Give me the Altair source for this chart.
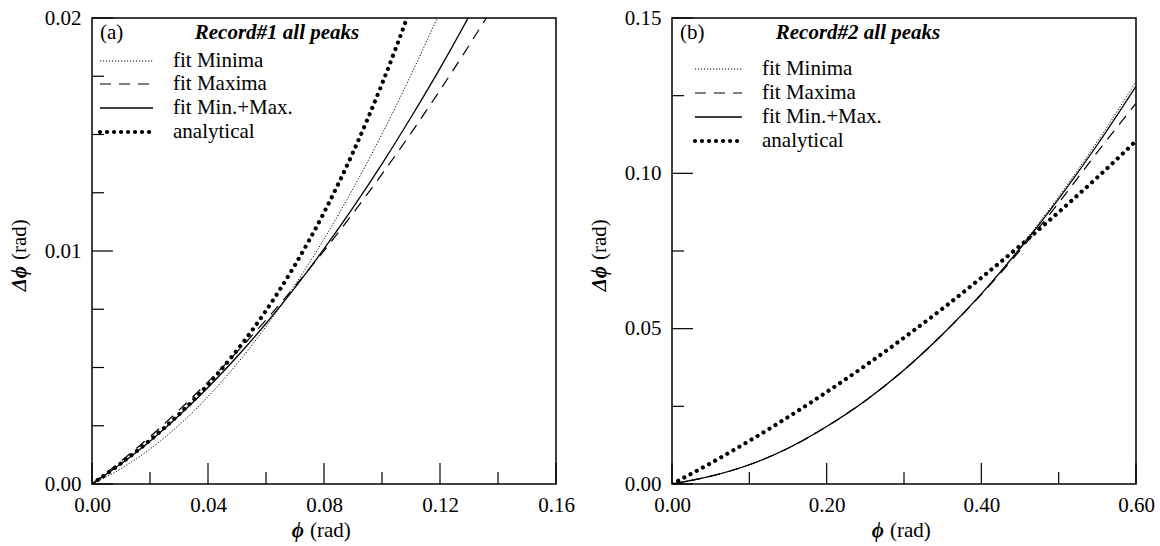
import altair as alt
import pandas as pd

FONT = "Liberation Serif"
FS = 21

# ---------------- panel (a): Record#1 ----------------
a_x = [0.00, 0.01, 0.02, 0.03, 0.04, 0.05, 0.06, 0.07, 0.08, 0.09, 0.10, 0.11, 0.12, 0.13, 0.14]
a_fit_min = [0.0, 0.00066, 0.00150, 0.00253, 0.00375, 0.00516, 0.00676, 0.00854, 0.01051, 0.01267, 0.01502, 0.01756, 0.02028, 0.0232, 0.0262]
a_fit_max = [0.0, 0.00098, 0.00203, 0.00317, 0.00438, 0.00567, 0.00704, 0.00849, 0.01001, 0.01162, 0.01330, 0.01506, 0.01690, 0.01882, 0.02081]
a_fit_minmax = [0.0, 0.00087, 0.00184, 0.00294, 0.00414, 0.00546, 0.00689, 0.00843, 0.01009, 0.01186, 0.01374, 0.01574, 0.01784, 0.02007, 0.0224]
a_analytical = [0.0, 0.00089, 0.00188, 0.00299, 0.00427, 0.00574, 0.00744, 0.00940, 0.01165, 0.01423, 0.01717, 0.02050, 0.0243, 0.0285, 0.0330]

# ---------------- panel (b): Record#2 ----------------
b_x = [0.00, 0.05, 0.10, 0.15, 0.20, 0.25, 0.30, 0.35, 0.40, 0.45, 0.50, 0.55, 0.60]
b_fit_min = [0.0, 0.0025, 0.0062, 0.0115, 0.0185, 0.0268, 0.0367, 0.0482, 0.0612, 0.0762, 0.0925, 0.1102, 0.1295]
b_fit_max = [0.0, 0.0025, 0.0062, 0.0115, 0.0185, 0.0268, 0.0367, 0.0482, 0.0610, 0.0752, 0.0905, 0.1068, 0.1225]
b_fit_minmax = [0.0, 0.0025, 0.0062, 0.0115, 0.0185, 0.0268, 0.0367, 0.0482, 0.0612, 0.0758, 0.0918, 0.1092, 0.1280]
b_analytical = [0.0, 0.0067, 0.0139, 0.0215, 0.0296, 0.0381, 0.0471, 0.0565, 0.0664, 0.0767, 0.0875, 0.0987, 0.1104]

series_names = ["fit Minima", "fit Maxima", "fit Min.+Max.", "analytical"]

STYLES = {
    "fit Minima": dict(strokeDash=[1.2, 1.8], strokeWidth=1.0),
    "fit Maxima": dict(strokeDash=[11, 8], strokeWidth=1.2),
    "fit Min.+Max.": dict(strokeWidth=1.3),
    "analytical": dict(strokeDash=[0.01, 7], strokeWidth=4.2, strokeCap="round"),
}

W, H = 464, 466
PHI = "\u03d5"


def one_row():
    return alt.Chart(pd.DataFrame({"k": [0]}))


def panel(xs, ys_list, xdom, ydom, xmaj, xminor, ymaj, yminor, tag, title,
          title_x, leg_x0, leg_x1, leg_tx, leg_ys):
    xsc = alt.Scale(domain=xdom, nice=False, zero=False)
    ysc = alt.Scale(domain=ydom, nice=False, zero=False)
    xax = alt.Axis(values=xmaj, format=".2f", ticks=False, domain=False, grid=False,
                   title=None, labelFont=FONT, labelFontSize=FS, labelColor="black",
                   labelPadding=10, labelFlush=False, labelOverlap=False)
    yax = alt.Axis(values=ymaj, format=".2f", ticks=False, domain=False, grid=False,
                   title=None, labelFont=FONT, labelFontSize=FS, labelColor="black",
                   labelPadding=11, labelFlush=False, labelOverlap=False)
    layers = []
    for name, ys in zip(series_names, ys_list):
        df = pd.DataFrame({"x": xs, "y": ys})
        layers.append(
            alt.Chart(df).mark_line(clip=True, color="black", interpolate="monotone",
                                    **STYLES[name]).encode(
                x=alt.X("x:Q", scale=xsc, axis=xax),
                y=alt.Y("y:Q", scale=ysc, axis=yax))
        )

    # inward ticks
    def xticks(vals, length):
        return alt.Chart(pd.DataFrame({"x": vals})).mark_rule(color="black", strokeWidth=1.2).encode(
            x=alt.X("x:Q", scale=xsc, axis=xax), y=alt.value(H), y2=alt.value(H - length))

    def yticks(vals, length):
        return alt.Chart(pd.DataFrame({"y": vals})).mark_rule(color="black", strokeWidth=1.2).encode(
            y=alt.Y("y:Q", scale=ysc, axis=yax), x=alt.value(0), x2=alt.value(length))

    layers += [xticks(xmaj, 21), xticks(xminor, 12), yticks(ymaj, 21), yticks(yminor, 12)]

    # panel tag and title
    layers.append(one_row().mark_text(text=tag, font=FONT, fontSize=FS, align="left",
                                      baseline="middle", color="black").encode(
        x=alt.value(8), y=alt.value(15)))
    layers.append(one_row().mark_text(text=title, font=FONT, fontSize=FS, fontStyle="italic",
                                      fontWeight="bold", align="center", baseline="middle",
                                      color="black").encode(x=alt.value(title_x), y=alt.value(15)))

    # legend
    for name, ly in zip(series_names, leg_ys):
        layers.append(one_row().mark_rule(color="black", **STYLES[name]).encode(
            x=alt.value(leg_x0), x2=alt.value(leg_x1), y=alt.value(ly)))
        layers.append(one_row().mark_text(text=name, font=FONT, fontSize=FS, align="left",
                                          baseline="middle", color="black").encode(
            x=alt.value(leg_tx), y=alt.value(ly)))

    # axis titles
    layers.append(one_row().mark_text(text=PHI, font=FONT, fontSize=FS, fontStyle="italic",
                                      fontWeight="bold", align="right", baseline="middle",
                                      color="black").encode(x=alt.value(212), y=alt.value(513)))
    layers.append(one_row().mark_text(text="(rad)", font=FONT, fontSize=FS, align="left",
                                      baseline="middle", dx=6, color="black").encode(
        x=alt.value(212), y=alt.value(513)))
    layers.append(one_row().mark_text(text="\u0394" + PHI, font=FONT, fontSize=FS, fontStyle="italic",
                                      fontWeight="bold", align="right", baseline="middle", angle=270,
                                      color="black").encode(x=alt.value(-72), y=alt.value(248)))
    layers.append(one_row().mark_text(text="(rad)", font=FONT, fontSize=FS, align="left",
                                      baseline="middle", angle=270, dx=6, color="black").encode(
        x=alt.value(-72), y=alt.value(248)))

    return alt.layer(*layers).properties(width=W, height=H)


left = panel(a_x, [a_fit_min, a_fit_max, a_fit_minmax, a_analytical],
             [0, 0.16], [0, 0.02],
             [0.0, 0.04, 0.08, 0.12, 0.16], [0.02, 0.06, 0.10, 0.14],
             [0.0, 0.01, 0.02], [0.0025, 0.005, 0.0075, 0.0125, 0.015, 0.0175],
             "(a)", "Record#1 all peaks", 185, 8, 61, 81, [43, 66, 90, 114])

right = panel(b_x, [b_fit_min, b_fit_max, b_fit_minmax, b_analytical],
              [0, 0.6], [0, 0.15],
              [0.0, 0.2, 0.4, 0.6], [0.1, 0.3, 0.5],
              [0.0, 0.05, 0.10, 0.15], [0.025, 0.075, 0.125],
              "(b)", "Record#2 all peaks", 186, 23, 70, 90, [51, 75, 99, 123])

chart = alt.hconcat(left, right, spacing=116, bounds="flush").configure_view(
    stroke="black", strokeWidth=1.5
).properties(
    padding={"left": 8, "top": 6, "right": 0, "bottom": 0},
    background="white",
)

chart.save("out.html", embed_options={"renderer": "svg", "actions": False})
